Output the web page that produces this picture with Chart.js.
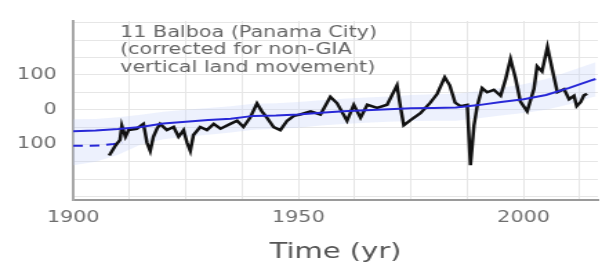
<!DOCTYPE html>
<html>
<head>
<meta charset="utf-8">
<script src="https://cdn.jsdelivr.net/npm/chart.js@4"></script>
<style>
  body { margin: 0; background: #fff; }
</style>
</head>
<body>
<!-- the source figure is stretched sideways, so the canvas is drawn narrow and widened by an inline style -->
<canvas id="grafico" width="436" height="267" style="width:602px;height:267px;display:block"></canvas>
<script>
// tide gauge record (black)
const anosMedidos = [1908.0, 1909.3, 1910.4, 1910.8, 1911.6, 1912.3, 1914.1, 1915.6, 1916.4, 1917.1,
  1917.8, 1918.6, 1919.3, 1920.8, 1922.3, 1923.4, 1924.5, 1925.3, 1926.0, 1926.7,
  1928.2, 1929.7, 1931.2, 1932.7, 1934.9, 1936.4, 1937.8, 1939.3, 1940.8, 1941.9,
  1943.0, 1944.5, 1946.0, 1947.5, 1949.0, 1950.4, 1952.7, 1954.9, 1957.1, 1958.6,
  1960.8, 1962.3, 1963.8, 1965.3, 1967.5, 1969.7, 1971.9, 1972.7, 1973.4, 1974.9,
  1977.1, 1979.3, 1980.8, 1982.5, 1983.6, 1984.8, 1986.0, 1987.5, 1988.2, 1989.0,
  1989.7, 1990.8, 1991.9, 1993.4, 1994.9, 1996.0, 1997.1, 1998.2, 1999.3, 2000.8,
  2002.3, 2003.0, 2004.1, 2005.3, 2006.4, 2007.5, 2009.0, 2010.1, 2011.2, 2011.8,
  2012.7, 2013.4, 2014.1];
const nivelMedido = [-132, -105, -87, -46, -78, -59, -55, -41, -96, -119,
  -78, -55, -41, -59, -50, -78, -59, -96, -119, -73,
  -50, -59, -41, -55, -41, -32, -50, -23, 18, -5,
  -23, -50, -59, -32, -18, -14, -5, -14, 37, 18,
  -32, 14, -23, 14, 5, 14, 70, 5, -45, -30,
  -10, 20, 45, 93, 70, 20, 10, 14, -160, -45,
  10, 62, 50, 57, 40, 87, 146, 91, 23, -5,
  59, 125, 110, 180, 114, 50, 59, 30, 40, 10,
  22, 41, 46];

// reconstruction (blue) and its uncertainty band
const anosModelo = [1900, 1905, 1910, 1915, 1920, 1925, 1930, 1935, 1940, 1945, 1950, 1955,
  1960, 1965, 1970, 1975, 1980, 1985, 1990, 1995, 2000, 2005, 2010, 2015, 2016];
const nivelModelo = [-62, -60, -56, -50, -40, -35, -30, -26, -18, -17, -14, -9,
  -5, -2, 1, 4, 5, 6, 13, 22, 30, 42, 62, 84, 88];
const faixaSuperior = [-28, -27, -22, -15, -6, 0, 5, 10, 17, 18, 22, 27,
  31, 35, 38, 42, 44, 46, 53, 63, 73, 88, 110, 132, 136];
const faixaInferior = [-160, -150, -130, -100, -85, -78, -72, -66, -58, -55, -52, -46,
  -41, -38, -35, -33, -32, -32, -25, -17, -10, 0, 15, 35, 38];

// dashed blue piece at the start
const anosTracejado = [1900, 1903, 1906, 1909, 1911];
const nivelTracejado = [-104, -104, -103, -99, -95];

const rotulosX = [1900, 1950, 2000];
const rotulosY = [100, 0, -100];
const textoEstacao = ['11 Balboa (Panama City)', '(corrected for non-GIA', 'vertical land movement)'];

function pontos(xs, ys) {
  return xs.map(function (x, i) { return { x: x, y: ys[i] }; });
}

const textoPlugin = {
  id: 'textoEstacao',
  afterDraw: function (chart) {
    const ctx = chart.ctx;
    ctx.save();
    ctx.font = '15px "DejaVu Sans"';
    ctx.fillStyle = '#666';
    ctx.textBaseline = 'middle';
    ctx.textAlign = 'left';
    textoEstacao.forEach(function (linha, i) {
      ctx.fillText(linha, 87, 33 + i * 17.5);
    });
    ctx.restore();
  }
};

const config = {
  type: 'line',
  data: {
    datasets: [{
      label: 'modelo',
      data: pontos(anosModelo, nivelModelo),
      borderColor: 'rgb(40, 40, 215)',
      borderWidth: 2,
      pointRadius: 0
    }, {
      label: 'medido',
      data: pontos(anosMedidos, nivelMedido),
      borderColor: '#111',
      borderWidth: 2.5,
      pointRadius: 0
    }, {
      label: 'tracejado',
      data: pontos(anosTracejado, nivelTracejado),
      borderColor: 'rgb(40, 40, 215)',
      borderWidth: 2,
      borderDash: [7, 5],
      pointRadius: 0
    }, {
      label: 'faixa superior',
      data: pontos(anosModelo, faixaSuperior),
      borderWidth: 0,
      borderColor: 'rgba(0,0,0,0)',
      backgroundColor: 'rgba(195, 210, 250, 0.3)',
      fill: 4,
      pointRadius: 0
    }, {
      label: 'faixa inferior',
      data: pontos(anosModelo, faixaInferior),
      borderWidth: 0,
      borderColor: 'rgba(0,0,0,0)',
      pointRadius: 0
    }]
  },
  options: {
    responsive: false,
    animation: false,
    devicePixelRatio: 1,
    layout: { padding: { top: 13, right: 3, left: 0, bottom: 0 } },
    plugins: { legend: { display: false }, tooltip: { enabled: false } },
    scales: {
      x: {
        type: 'linear',
        min: 1900,
        max: 2016.5,
        afterBuildTicks: function (scale) {
          const ticks = [];
          for (let v = 1900; v <= 2016; v += 12.5) ticks.push({ value: v });
          scale.ticks = ticks;
        },
        afterFit: function (scale) { scale.height = 67; },
        grid: { color: '#e6e6e6', lineWidth: 1, drawTicks: false },
        border: { display: true, color: '#9a9a9a', width: 2 },
        ticks: {
          autoSkip: false,
          maxRotation: 0,
          padding: 9,
          color: '#6e6e6e',
          font: { family: 'DejaVu Sans', size: 15 },
          callback: function (v) { return rotulosX.indexOf(v) >= 0 ? String(v) : ''; }
        },
        title: {
          display: true,
          text: 'Time (yr)',
          color: '#555',
          font: { family: 'DejaVu Sans', size: 21 },
          padding: { top: 0, bottom: 2 }
        }
      },
      y: {
        min: -260,
        max: 255,
        afterBuildTicks: function (scale) {
          const ticks = [];
          for (let v = -250; v <= 250; v += 50) ticks.push({ value: v });
          scale.ticks = ticks;
        },
        afterFit: function (scale) { scale.width = 53; },
        grid: { color: '#e6e6e6', lineWidth: 1, drawTicks: false },
        border: { display: true, color: '#a8a8a8', width: 2 },
        ticks: {
          autoSkip: false,
          padding: 12,
          color: '#6e6e6e',
          font: { family: 'DejaVu Sans', size: 15 },
          // the figure prints the negative tick without its sign
          callback: function (v) { return rotulosY.indexOf(v) >= 0 ? String(Math.abs(v)) : ''; }
        }
      }
    }
  },
  plugins: [textoPlugin]
};

const grafico = new Chart(document.getElementById('grafico'), config);
</script>
</body>
</html>
